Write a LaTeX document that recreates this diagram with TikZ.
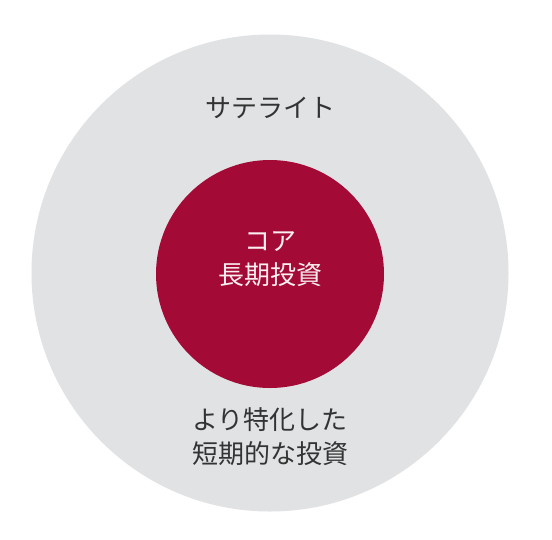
\documentclass[tikz,border=0pt]{standalone}
\usepackage{fontspec}
\setmainfont{Noto Sans CJK JP}
\definecolor{ringgray}{HTML}{E1E2E4}
\definecolor{corered}{HTML}{A30A35}
\definecolor{txtdark}{HTML}{333333}
\definecolor{txtlight}{HTML}{FBEFF2}
\begin{document}
\begin{tikzpicture}[x=1pt,y=-1pt,
  lbl/.style={font=\fontsize{26}{34}\selectfont, align=center, inner sep=0pt}]
\useasboundingbox (0,0) rectangle (552,539);
\fill[white] (0,0) rectangle (552,539);
\node[circle, fill=ringgray, minimum size=477pt, inner sep=0pt] (outer) at (270,273) {};
\node[circle, fill=corered, minimum size=228pt, inner sep=0pt] (core) at (270,274) {};
\node[lbl, text=txtdark] (sat) at (270,108) {サテライト};
\node[lbl, text=txtlight] (coretext) at (270,259) {コア\\長期投資};
\node[lbl, text=txtdark] (short) at (270,437) {より特化した\\短期的な投資};
\end{tikzpicture}
\end{document}
